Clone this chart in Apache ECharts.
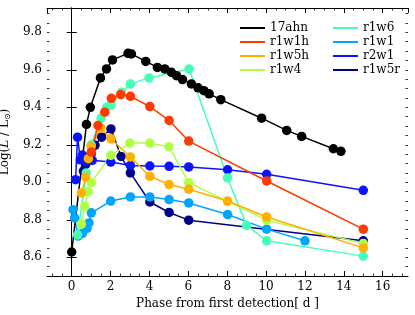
<!DOCTYPE html>
<html><head><meta charset="utf-8">
<script src="https://cdn.jsdelivr.net/npm/echarts@6/dist/echarts.min.js"></script>
<style>html,body{margin:0;padding:0;background:#fff}#c{width:415px;height:315px}</style>
</head><body><div id="c"></div>
<script>
// ---- data (phase [d], log L/Lsun) ----
const seriesNames = ['17ahn','r1w1h','r1w5h','r1w4','r1w6','r1w1','r2w1','r1w5r'];
const seriesColors = ['#000000','#ff3a00','#ffb000','#b0ff45','#45ffb8','#00a5ff','#0a14ff','#000088'];
const xTickLabels = [0,2,4,6,8,10,12,14,16];
const yTickLabels = [8.6,8.8,9.0,9.2,9.4,9.6,9.8];

const d17ahn = [[0,8.628],[0.76,9.309],[0.96,9.40],[1.48,9.557],[1.79,9.605],[2.1,9.653],[2.9,9.688],[3.07,9.685],
  [3.81,9.645],[4.41,9.613],[4.79,9.605],[5.13,9.587],[5.39,9.569],[5.7,9.548],[6.16,9.525],[6.5,9.504],
  [6.8,9.489],[7.07,9.472],[7.67,9.441],[9.77,9.342],[11.06,9.277],[11.83,9.245],[13.46,9.179],[13.85,9.165]];
const dr1w1h = [[1.01,9.161],[1.35,9.303],[1.7,9.374],[2.04,9.448],[2.52,9.468],[3.02,9.459],[4.02,9.404],
  [5.01,9.33],[6.02,9.22],[10.03,9.007],[15,8.75]];
const dr1w5h = [[0.5,8.943],[0.72,9.028],[0.86,9.126],[1.0,9.19],[1.5,9.29],[2.02,9.232],[3.02,9.135],
  [4.02,9.032],[5.01,8.988],[6.02,8.963],[8.02,8.90],[10.03,8.815],[15,8.65]];
const dr1w4 = [[0.5,8.777],[0.67,8.872],[0.84,8.949],[1.01,8.998],[2.01,9.144],[2.99,9.209],[4.02,9.209],
  [5.01,9.19],[6.02,8.998],[8.02,8.898],[10.03,8.798],[15,8.674]];
const dr1w6 = [[0.3,8.72],[0.75,9.05],[1.0,9.2],[1.51,9.342],[1.8,9.40],[2.04,9.413],[2.56,9.48],[3.02,9.525],
  [3.98,9.557],[6.04,9.605],[8.02,9.023],[9.0,8.77],[10.03,8.688],[15,8.606]];
const dr1w1 = [[0.07,8.854],[0.15,8.81],[0.33,8.713],[0.55,8.727],[0.79,8.754],[0.89,8.783],[1.01,8.837],
  [2.01,8.90],[3.02,8.922],[4.02,8.922],[5.01,8.908],[6.02,8.89],[8.02,8.828],[10.03,8.75],[12.0,8.688]];
const dr2w1 = [[0.2,9.014],[0.3,9.241],[0.45,9.12],[0.55,9.145],[0.75,9.11],[1.06,9.117],[2.01,9.108],
  [3.02,9.09],[4.02,9.087],[5.01,9.085],[6.02,9.082],[8.02,9.067],[10.03,9.043],[15,8.957]];
const dr1w5r = [[0.6,9.06],[0.72,9.096],[1.0,9.15],[1.2,9.197],[1.54,9.241],[2.02,9.285],[2.54,9.138],
  [3.02,9.05],[4.02,8.895],[5.01,8.839],[6.02,8.798],[15,8.688]];
const seriesData = [d17ahn,dr1w1h,dr1w5h,dr1w4,dr1w6,dr1w1,dr2w1,dr1w5r];

const X_MIN=-1.27, X_MAX=17.3, Y_MIN=8.5, Y_MAX=9.93;
const FONT = 'DejaVu Serif';

const chart = echarts.init(document.getElementById('c'), null, {renderer:'canvas'});
const series = [];
for (let i = seriesNames.length-1; i >= 0; i--) {
  series.push({
    name: seriesNames[i], type:'line', xAxisIndex:0, yAxisIndex:0,
    data: seriesData[i], symbol:'circle', symbolSize:9.5, showAllSymbol:true,
    lineStyle:{color:seriesColors[i], width:1.5},
    itemStyle:{color:seriesColors[i]},
    emphasis:{disabled:true}, z: 3
  });
}
const frameLine = {show:true, lineStyle:{color:'#000', width:1}};
const majorTick = {show:true, inside:true, length:5, lineStyle:{color:'#000', width:1}};
const minorTickS = {show:true, inside:true, length:2.5, lineStyle:{color:'#000', width:0.8}};
const plotL=47, plotR=408;
const pxPer=(plotR-plotL)/(X_MAX-X_MIN);
const g1L = plotL + (-1-X_MIN)*pxPer;
const g1R = plotL + (17-X_MIN)*pxPer;

chart.setOption({
  animation:false,
  backgroundColor:'#fff',
  textStyle:{fontFamily:FONT},
  grid:[
    {left:plotL, right:415-plotR, top:8, bottom:39, containLabel:false, outerBoundsMode:'none'},
    {left:g1L, right:415-g1R, top:8, bottom:39, containLabel:false, outerBoundsMode:'none'}
  ],
  xAxis:[
    {type:'value', gridIndex:0, position:'bottom', min:X_MIN, max:X_MAX, minInterval:2, maxInterval:2,
     axisLine:frameLine, axisTick:majorTick, splitLine:{show:false},
     axisLabel:{show:true, color:'#000', fontFamily:FONT, fontSize:12, margin:5, showMinLabel:false, showMaxLabel:false,
       formatter:v=> xTickLabels.indexOf(Math.round(v*1000)/1000)>=0 ? String(Math.round(v)) : ''},
     name:'Phase from first detection[ d ]', nameLocation:'middle', nameGap:21,
     nameTextStyle:{color:'#000', fontFamily:FONT, fontSize:12}},
    {type:'value', gridIndex:0, position:'top', min:X_MIN, max:X_MAX, minInterval:2, maxInterval:2,
     axisLine:frameLine, axisTick:majorTick, axisLabel:{show:false}, splitLine:{show:false}},
    {type:'value', gridIndex:1, position:'bottom', min:-1, max:17, interval:0.5,
     axisLine:{show:false}, axisTick:minorTickS, axisLabel:{show:false}, splitLine:{show:false}},
    {type:'value', gridIndex:1, position:'top', min:-1, max:17, interval:0.5,
     axisLine:{show:false}, axisTick:minorTickS, axisLabel:{show:false}, splitLine:{show:false}}
  ],
  yAxis:[
    {type:'value', gridIndex:0, position:'left', min:Y_MIN, max:Y_MAX, minInterval:0.2, maxInterval:0.2,
     axisLine:frameLine, axisTick:majorTick, splitLine:{show:false},
     axisLabel:{show:true, color:'#000', fontFamily:FONT, fontSize:12, margin:5, showMinLabel:false, showMaxLabel:false,
       formatter:v=>{const r=Math.round(v*10)/10; return yTickLabels.indexOf(r)>=0 && Math.abs(v-r)<1e-6 ? r.toFixed(1) : '';}},
     name:'{a|Log(}{i|L}{a| / L}{s|⊙}{a|)}', nameLocation:'middle', nameGap:28, nameRotate:90,
     nameTextStyle:{color:'#000', fontFamily:FONT, fontSize:12,
       rich:{a:{fontFamily:FONT,fontSize:12,color:'#000'}, i:{fontFamily:FONT,fontSize:12,fontStyle:'italic',color:'#000'},
             s:{fontFamily:FONT,fontSize:8,color:'#000',verticalAlign:'bottom',padding:[6,0,0,0]}}}},
    {type:'value', gridIndex:0, position:'right', min:Y_MIN, max:Y_MAX, minInterval:0.2, maxInterval:0.2,
     axisLine:frameLine, axisTick:majorTick, axisLabel:{show:false}, splitLine:{show:false}},
    {type:'value', gridIndex:0, position:'left', min:Y_MIN, max:Y_MAX, interval:0.05,
     axisLine:{show:false}, axisTick:minorTickS, axisLabel:{show:false}, splitLine:{show:false}},
    {type:'value', gridIndex:0, position:'right', min:Y_MIN, max:Y_MAX, interval:0.05,
     axisLine:{show:false}, axisTick:minorTickS, axisLabel:{show:false}, splitLine:{show:false}},
    {type:'value', gridIndex:1, show:false, min:Y_MIN, max:Y_MAX}
  ],
  legend:[
    {data:seriesNames.slice(0,4), orient:'vertical', left:235, top:17, icon:'rect', itemWidth:25, itemHeight:2,
     itemGap:2, selectedMode:false, textStyle:{fontFamily:FONT, fontSize:12, lineHeight:12, color:'#000'}},
    {data:seriesNames.slice(4), orient:'vertical', left:328, top:17, icon:'rect', itemWidth:25, itemHeight:2,
     itemGap:2, selectedMode:false, textStyle:{fontFamily:FONT, fontSize:12, lineHeight:12, color:'#000'}}
  ],
  series: series
});
</script>
</body></html>
